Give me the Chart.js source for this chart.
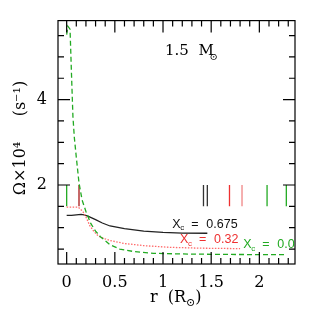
<!DOCTYPE html>
<html>
<head>
<meta charset="utf-8">
<script src="https://cdn.jsdelivr.net/npm/chart.js@4.4.1/dist/chart.umd.min.js"></script>
<style>
  html, body { margin: 0; padding: 0; background: #fff; }
  #wrap { width: 312px; height: 312px; }
</style>
</head>
<body>
<div id="wrap"><canvas id="omegaChart" width="312" height="312"></canvas></div>
<script>
// ---- curves: r (R_sun) vs Omega x 10^4 (s^-1) ----
const rBlack     = [0, 0.05, 0.1, 0.15, 0.18, 0.22, 0.26, 0.3, 0.37, 0.45, 0.6, 0.7, 0.8, 1.0, 1.2, 1.46];
const omegaBlack = [1.29, 1.29, 1.30, 1.31, 1.30, 1.27, 1.23, 1.19, 1.11, 1.04, 0.98, 0.95, 0.92, 0.89, 0.875, 0.87];

const rRed     = [0, 0.12, 0.14, 0.17, 0.2, 0.24, 0.28, 0.33, 0.4, 0.45, 0.6, 0.8, 1.07, 1.4, 1.8];
const omegaRed = [1.48, 1.48, 1.44, 1.37, 1.25, 1.05, 0.92, 0.80, 0.74, 0.70, 0.63, 0.58, 0.54, 0.52, 0.51];

const rGreen     = [0, 0.012, 0.035, 0.05, 0.065, 0.08, 0.1, 0.128, 0.16, 0.2, 0.25, 0.3, 0.35, 0.45, 0.55, 0.7, 0.9, 1.2, 1.6, 2.0, 2.28];
const omegaGreen = [5.52, 5.72, 5.65, 4.6, 3.6, 3.1, 2.65, 2.05, 1.65, 1.38, 1.10, 0.92, 0.79, 0.60, 0.50, 0.44, 0.40, 0.385, 0.375, 0.37, 0.37];

// ---- short vertical markers (from Omega 1.5 to 2.0) ----
const markerR    = [0, 0.128, 1.42, 1.46, 1.69, 1.82, 2.08, 2.28];
const markerLow  = 1.5;
const markerHigh = 2.0;

// ---- labels ----
const xTickLabels = [0, 0.5, 1, 1.5, 2];
const yTickLabels = [2, 4];
const curveNames  = ['0.675', '0.32', '0.0'];

// ---- styles ----
const COL = { black: '#222222', red: '#ee3030', pink: '#ff6a6a', green: '#22aa22', darkred: '#a81818', lightred: '#f08585' };
const markerColors = [COL.green, COL.darkred, '#333', '#333', COL.red, COL.lightred, COL.green, COL.green];
const SERIF = "'DejaVu Serif', serif";
const SANS  = "'Liberation Sans', Arial, sans-serif";

function pts(xs, ys) { return xs.map((x, i) => ({ x, y: ys[i] })); }
function near(v, list) { return list.some(l => Math.abs(l - v) < 1e-6); }

// label anchors in data coordinates (left of the X, baseline)
const curveLabelPos = [
  { r: 1.097, w: 1.00, color: '#111' },
  { r: 1.177, w: 0.64, color: COL.red },
  { r: 1.834, w: 0.52, color: COL.green }
];

const datasets = [
  { data: pts(rGreen, omegaGreen), borderColor: COL.green, borderWidth: 1.3, borderDash: [5, 3] },
  { data: pts(rRed, omegaRed),     borderColor: COL.pink,  borderWidth: 1.3, borderDash: [1.5, 1.5] },
  { data: pts(rBlack, omegaBlack), borderColor: COL.black, borderWidth: 1.3 }
];
markerR.forEach((r, i) => {
  datasets.push({ data: [{ x: r, y: markerLow }, { x: r, y: markerHigh }], borderColor: markerColors[i], borderWidth: 1.3 });
});
datasets.forEach(d => { d.pointRadius = 0; d.tension = 0; d.fill = false; });

// ---- frame, inward ticks and text ----
const decor = {
  id: 'decor',
  afterDraw(chart) {
    const { ctx, chartArea: a, scales: { x, y } } = chart;
    ctx.save();
    ctx.strokeStyle = '#000';
    ctx.lineWidth = 1.2;
    ctx.strokeRect(a.left, a.top, a.right - a.left, a.bottom - a.top);

    ctx.beginPath();
    x.ticks.forEach(t => {
      const px = x.getPixelForValue(t.value);
      const len = near(t.value, xTickLabels) ? 12 : 6;
      ctx.moveTo(px, a.bottom); ctx.lineTo(px, a.bottom - len);
      ctx.moveTo(px, a.top);    ctx.lineTo(px, a.top + len);
    });
    y.ticks.forEach(t => {
      const py = y.getPixelForValue(t.value);
      const len = near(t.value, yTickLabels) ? 12 : 6;
      ctx.moveTo(a.left, py);  ctx.lineTo(a.left + len, py);
      ctx.moveTo(a.right, py); ctx.lineTo(a.right - len, py);
    });
    ctx.stroke();

    // curve labels  X_c = value
    ctx.textBaseline = 'alphabetic';
    ctx.textAlign = 'left';
    curveLabelPos.forEach((p, i) => {
      const px = x.getPixelForValue(p.r), py = y.getPixelForValue(p.w);
      ctx.fillStyle = p.color;
      ctx.font = '12.5px ' + SANS;
      ctx.fillText('X', px, py);
      ctx.font = '8px ' + SANS;
      ctx.fillText('c', px + 8, py + 2.5);
      ctx.font = '12.5px ' + SANS;
      ctx.fillText('=', px + 19, py);
      ctx.fillText(curveNames[i], px + 34, py);
    });

    // title 1.5 M_sun
    ctx.fillStyle = '#000';
    ctx.font = '15px ' + SERIF;
    ctx.fillText('1.5  M', 165, 54.5);
    ctx.font = '10px ' + SERIF;
    ctx.fillText('\u2299', 209.5, 59.5);

    // x title r (R_sun)
    ctx.font = '16px ' + SERIF;
    let cx = 150;
    ctx.fillText('r  (R', cx, 302);
    cx += ctx.measureText('r  (R').width;
    ctx.font = '11px ' + SERIF;
    ctx.fillText('\u2299', cx, 306);
    cx += ctx.measureText('\u2299').width;
    ctx.font = '16px ' + SERIF;
    ctx.fillText(')', cx, 302);

    // y title
    ctx.translate(25, 138);
    ctx.rotate(-Math.PI / 2);
    ctx.textAlign = 'center';
    ctx.font = '16px ' + SERIF;
    ctx.fillText('\u03A9\u00D710\u2074     (s\u207B\u00B9)', 0, 0);
    ctx.restore();
  }
};

function init() {
  const el = document.getElementById('omegaChart');
  new Chart(el, {
    type: 'line',
    data: { datasets },
    options: {
      responsive: false,
      animation: false,
      layout: { padding: { top: 17, right: 17, left: 0, bottom: 0 } },
      plugins: { legend: { display: false }, tooltip: { enabled: false } },
      scales: {
        x: {
          type: 'linear', min: -0.09, max: 2.37,
          grid: { display: false, drawTicks: false },
          border: { display: false },
          afterBuildTicks: s => { s.ticks = Array.from({ length: 24 }, (_, i) => ({ value: i / 10 })); },
          afterFit: s => { s.height = 48; },
          ticks: {
            autoSkip: false, maxRotation: 0, padding: 9, color: '#000',
            font: { size: 16, family: SERIF },
            callback: v => near(v, xTickLabels) ? String(+v.toFixed(1)) : ''
          }
        },
        y: {
          type: 'linear', min: 0.15, max: 5.85,
          grid: { display: false, drawTicks: false },
          border: { display: false },
          afterBuildTicks: s => { s.ticks = Array.from({ length: 11 }, (_, i) => ({ value: (i + 1) / 2 })); },
          afterFit: s => { s.width = 58; },
          ticks: {
            autoSkip: false, padding: 11, color: '#000',
            font: { size: 16, family: SERIF },
            callback: v => near(v, yTickLabels) ? String(v) : ''
          }
        }
      }
    },
    plugins: [decor]
  });
}

if (document.readyState === 'loading') {
  document.addEventListener('DOMContentLoaded', init);
} else {
  init();
}
</script>
</body>
</html>
